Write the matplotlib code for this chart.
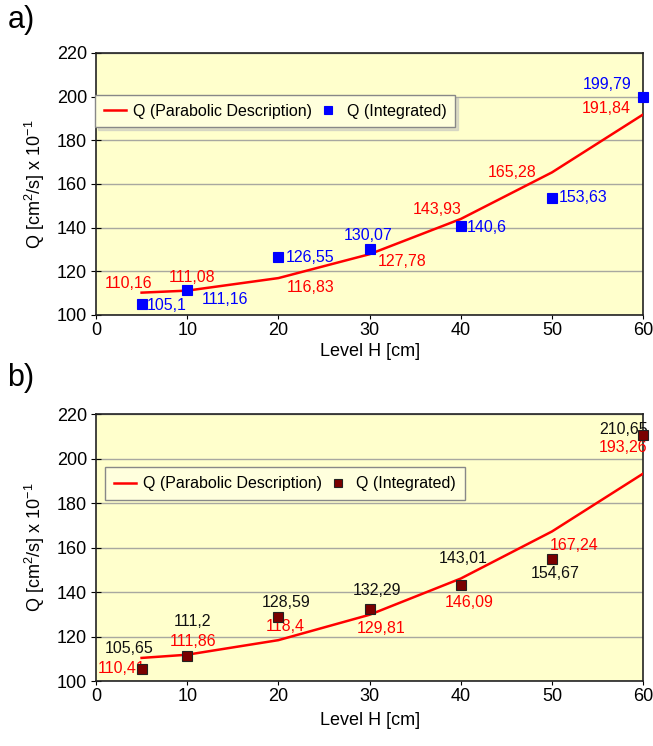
import matplotlib
matplotlib.use('Agg')
import matplotlib.pyplot as plt

plt.rcParams['font.family'] = ['Liberation Sans', 'DejaVu Sans']
plt.rcParams['mathtext.fontset'] = 'custom'
plt.rcParams['mathtext.rm'] = 'Liberation Sans'
plt.rcParams['mathtext.it'] = 'Liberation Sans:italic'

# data
H = [5, 10, 20, 30, 40, 50, 60]
q_par_a = [110.16, 111.08, 116.83, 127.78, 143.93, 165.28, 191.84]
q_int_a = [105.1, 111.16, 126.55, 130.07, 140.6, 153.63, 199.79]
q_par_b = [110.41, 111.86, 118.4, 129.81, 146.09, 167.24, 193.26]
q_int_b = [105.65, 111.2, 128.59, 132.29, 143.01, 154.67, 210.65]

# label offsets (data units) from each point
off_par_a = [(-1.4, 4.1), (0.5, 5.9), (3.5, -4.4), (3.6, -3.4), (-2.6, 4.4), (-4.4, 0.0), (-4.0, 2.9)]
off_int_a = [(2.8, -1.0), (4.1, -4.3), (3.5, -0.3), (-0.2, 6.2), (2.9, -0.6), (3.4, 0.2), (-4.0, 5.9)]
off_par_b = [(-2.15, -4.7), (0.6, 5.9), (0.7, 6.2), (1.3, -6.1), (0.9, -10.8), (2.4, -6.1), (-2.2, 11.5)]
off_int_b = [(-1.4, 9.0), (0.6, 15.5), (0.8, 6.7), (0.8, 8.3), (0.3, 12.3), (0.3, -6.1), (-2.2, 2.3)]

BG = '#FFFFCC'


def fmt(v):
    return str(v).replace('.', ',')


def panel(ax, qp, qi, op, oi, mcolor, medge, lcolor, leg_anchor, xlab_y, shadow):
    ax.set_facecolor(BG)
    ax.set_xlim(0, 60)
    ax.set_ylim(100, 220)
    ax.set_xticks(range(0, 61, 10))
    ax.set_yticks(range(100, 221, 20))
    ax.grid(axis='y', color='#a8a8a0', linewidth=1.0)
    ax.set_axisbelow(True)
    for s in ax.spines.values():
        s.set_color('#222222')
        s.set_linewidth(1.2)
    ax.tick_params(axis='x', direction='out', length=3, labelsize=13, pad=2)
    ax.tick_params(axis='y', direction='inout', length=7, labelsize=13, pad=3)

    ax.plot(H, qp, color='#ff0000', lw=1.8, label='Q (Parabolic Description)', zorder=3)
    ax.plot(H, qi, ls='none', marker='s', ms=6.5, color=mcolor, mec=medge, mew=0.8,
            label='Q (Integrated)', zorder=5, clip_on=False)

    for x, y, (dx, dy) in zip(H, qp, op):
        ax.text(x + dx, y + dy, fmt(y), color='#ff0000', fontsize=11.5,
                ha='center', va='center', zorder=4)
    for x, y, (dx, dy) in zip(H, qi, oi):
        ax.text(x + dx, y + dy, fmt(y), color=lcolor, fontsize=11.5,
                ha='center', va='center', zorder=4)

    ax.set_xlabel('Level H [cm]', fontsize=13)
    ax.xaxis.set_label_coords(0.5, xlab_y)
    ax.set_ylabel('Q [cm$^2$/s] x 10$^{-1}$', fontsize=13)
    ax.yaxis.set_label_coords(-0.09, 0.5)

    leg = ax.legend(loc='upper left', bbox_to_anchor=leg_anchor, ncol=2,
                    fontsize=11.5, frameon=True, fancybox=False, shadow=shadow,
                    borderaxespad=0, handlelength=1.4, handletextpad=0.45,
                    columnspacing=0.3, borderpad=0.55, markerscale=0.8)
    leg.get_frame().set_facecolor('#FFFFDD')
    leg.get_frame().set_edgecolor('#888888')
    leg.get_frame().set_alpha(1)


fig = plt.figure(figsize=(6.53, 7.46), dpi=100)
ax1 = fig.add_axes([0.147, 0.578, 0.838, 0.351])
ax2 = fig.add_axes([0.147, 0.087, 0.838, 0.358])

panel(ax1, q_par_a, q_int_a, off_par_a, off_int_a, '#0000ff', '#0000ff', '#0000ff',
      (-0.002, 0.84), -0.107, {'ox': 2, 'oy': -2, 'color': '0.75'})
panel(ax2, q_par_b, q_int_b, off_par_b, off_int_b, '#7a0000', '#222222', '#111111',
      (0.016, 0.80), -0.116, False)

fig.text(21 / 653, 1 - 20 / 746, 'a)', fontsize=22, ha='center', va='center')
fig.text(21 / 653, 1 - 378 / 746, 'b)', fontsize=22, ha='center', va='center')

fig.savefig('out.png', dpi=100)
